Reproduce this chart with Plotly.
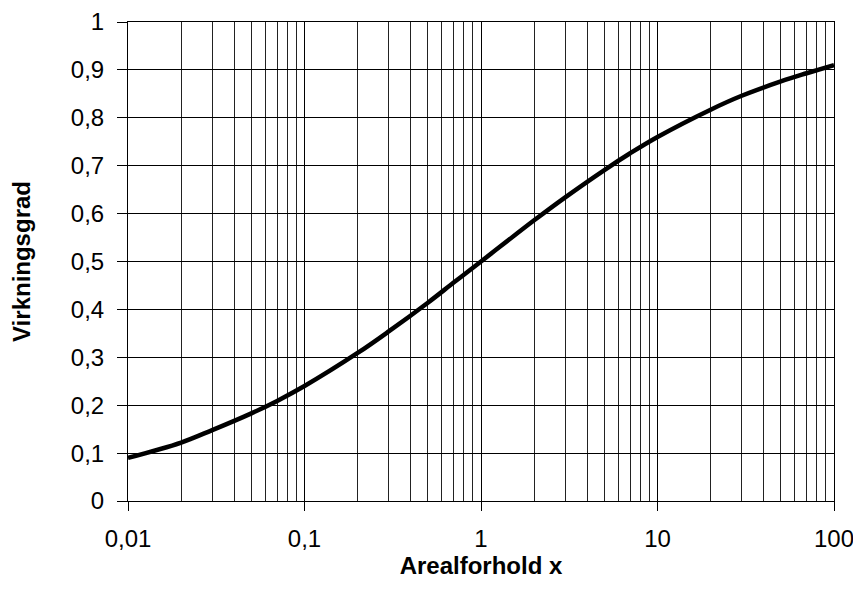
import plotly.graph_objects as go

# Data
x_vals = [0.01, 0.02, 0.03, 0.05, 0.07, 0.1, 0.2, 0.3, 0.5, 0.7, 1, 2, 3, 5, 7, 10, 20, 30, 50, 70, 100]
y_vals = [0.09, 0.122, 0.148, 0.183, 0.209, 0.24, 0.309, 0.354, 0.414, 0.456, 0.5, 0.586, 0.634, 0.691, 0.726, 0.76, 0.817, 0.846, 0.876, 0.893, 0.91]

x_ticks = [0.01, 0.1, 1, 10, 100]
x_tick_labels = ["0,01", "0,1", "1", "10", "100"]
y_ticks = [0, 0.1, 0.2, 0.3, 0.4, 0.5, 0.6, 0.7, 0.8, 0.9, 1.0]
y_tick_labels = ["0", "0,1", "0,2", "0,3", "0,4", "0,5", "0,6", "0,7", "0,8", "0,9", "1"]
minor_x = [m * d for d in [0.01, 0.1, 1, 10] for m in range(2, 10)]

fig = go.Figure()
fig.add_trace(go.Scatter(
    x=x_vals, y=y_vals, mode="lines",
    line=dict(color="black", width=4.5, shape="spline"),
    showlegend=False,
))

font = "Liberation Sans, Arial, sans-serif"
# page body has an 8px margin, so the figure is shrunk and offset accordingly
fig.update_layout(
    width=853, height=589,
    margin=dict(l=120, r=27, t=14, b=96),
    paper_bgcolor="white", plot_bgcolor="white",
    font=dict(family=font, color="black", size=24),
    xaxis=dict(
        type="log", range=[-2, 2], automargin=False,
        tickvals=x_ticks, ticktext=x_tick_labels,
        ticks="outside", ticklen=9, tickcolor="black", tickwidth=1,
        ticklabelstandoff=7,
        showgrid=True, gridcolor="black", gridwidth=1,
        minor=dict(tickvals=minor_x, showgrid=True, gridcolor="#222", gridwidth=1, ticks=""),
        showline=True, linecolor="black", linewidth=1, mirror=True,
        zeroline=False,
        title=dict(text="<b>Arealforhold x</b>", font=dict(size=24), standoff=3),
    ),
    yaxis=dict(
        range=[0, 1], automargin=False,
        tickvals=y_ticks, ticktext=y_tick_labels,
        ticks="outside", ticklen=10, tickcolor="black", tickwidth=1,
        ticklabelstandoff=8,
        showgrid=True, gridcolor="black", gridwidth=1,
        showline=True, linecolor="black", linewidth=1, mirror=True,
        zeroline=False,
        title=dict(text="<b>Virkningsgrad</b>", font=dict(size=24), standoff=36),
    ),
)

fig.write_html("out.html")
